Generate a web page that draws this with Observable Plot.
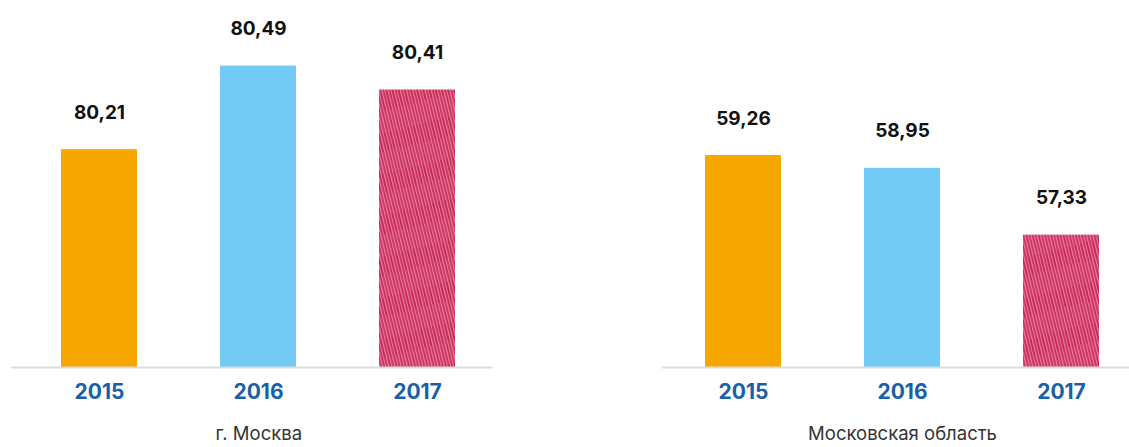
<!DOCTYPE html>
<html>
<head>
<meta charset="utf-8">
<script src="https://cdn.jsdelivr.net/npm/d3@7"></script>
<script src="https://cdn.jsdelivr.net/npm/@observablehq/plot@0.6"></script>
<style>
  html, body { margin: 0; padding: 0; background: #fff; overflow: hidden; }
  #wrap { position: relative; width: 1129px; height: 447px; overflow: hidden; font-family: Inter, "Open Sans", sans-serif; }
  #left { position: absolute; left: 0; top: 0; width: 508px; }
  #right { position: absolute; left: 644px; top: 0; width: 505px; }
  #wrap svg { max-width: none !important; }
</style>
</head>
<body>
<div id="wrap"><div id="left"></div><div id="right"></div></div>
<script>
const years = ["2015", "2016", "2017"];
const moscowValues = [80.21, 80.49, 80.41];
const oblastValues = [59.26, 58.95, 57.33];
const panelTitles = ["г. Москва", "Московская область"];
const barColors = ["#f6a700", "#73cbf5"];

const fmt = v => v.toFixed(2).replace(".", ",");

function panel(values, title, yDomain, id, opts) {
  const data = years.map((year, i) => ({year, value: values[i]}));
  const svg = Plot.plot({
    width: opts.width,
    height: 447,
    marginTop: 0,
    marginBottom: 80,
    marginLeft: opts.marginLeft,
    marginRight: opts.marginRight,
    style: {fontFamily: "Inter, 'Open Sans', sans-serif", background: "transparent", overflow: "visible", maxWidth: "none"},
    x: {domain: years, paddingInner: 0.523, paddingOuter: 0.2615, axis: null},
    y: {domain: yDomain, axis: null},
    color: {domain: years, range: [...barColors, `url(#${id})`]},
    marks: [
      Plot.barY(data, {x: "year", y1: yDomain[0], y2: "value", fill: "year"}),
      Plot.ruleY([yDomain[0]], {stroke: "#dcdcdc", strokeWidth: 2, insetLeft: opts.ruleInsetLeft, insetRight: opts.ruleInsetRight}),
      Plot.text(data, {x: "year", y: "value", text: d => fmt(d.value), dy: -37, fontSize: 19, fontWeight: 700, fill: "#111"}),
      Plot.text(data, {x: "year", text: "year", frameAnchor: "bottom", dy: 31, fontSize: 21, fontWeight: 700, fill: "#1a60a8"}),
      Plot.text([title], {text: d => d, frameAnchor: "bottom", dy: 72.5, dx: opts.titleDx, fontSize: 18.5, fill: "#333"})
    ]
  });
  d3.select(svg).insert("defs", ":first-child").html(`
    <pattern id="${id}" patternUnits="userSpaceOnUse" width="6" height="40" patternTransform="rotate(-14)">
      <rect width="6" height="40" fill="#c92958"/>
      <rect x="0" width="1.3" height="40" fill="#e9809f"/>
      <rect x="3" width="0.8" height="40" fill="#f2aac0" opacity="0.8"/>
      <rect x="4.6" width="0.6" height="22" fill="#e46a8e" opacity="0.9"/>
    </pattern>`);
  return svg;
}

document.getElementById("left").appendChild(
  panel(moscowValues, panelTitles[0], [79.48, 80.71], "hatchL",
    {width: 508, marginLeft: 19, marginRight: 10.5, ruleInsetLeft: -8, ruleInsetRight: 5, titleDx: 0})
);
document.getElementById("right").appendChild(
  panel(oblastValues, panelTitles[1], [54.12, 63.02], "hatchR",
    {width: 505, marginLeft: 19.5, marginRight: 8.5, ruleInsetLeft: -1.5, ruleInsetRight: -10, titleDx: 0})
);
</script>
</body>
</html>
